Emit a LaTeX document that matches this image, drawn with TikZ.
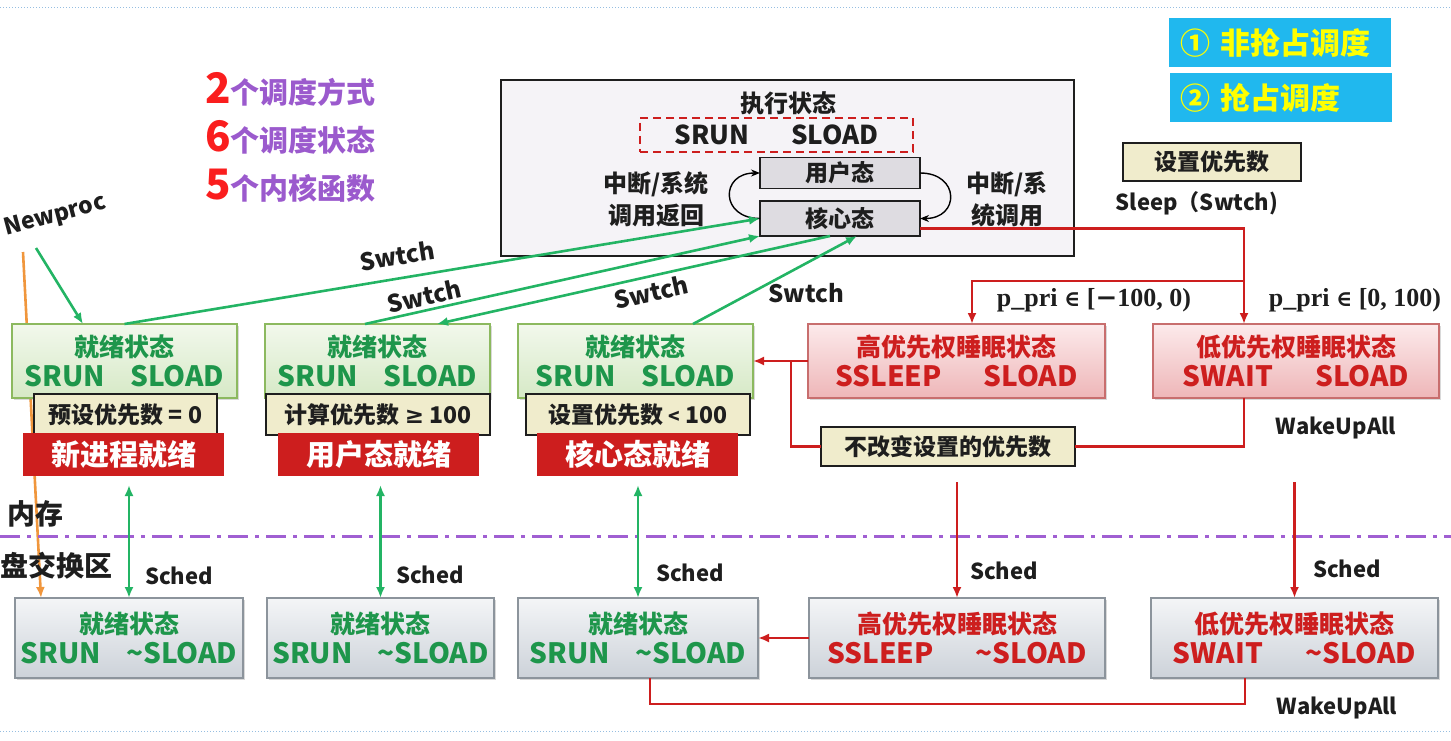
\documentclass[tikz,border=0pt]{standalone}
\usepackage[no-math]{fontspec}
\setmainfont{Noto Sans CJK SC}
\newfontfamily\serifb{Liberation Serif}
\newfontfamily\symb{DejaVu Serif}
\newfontfamily\symsans{DejaVu Sans}
\usetikzlibrary{arrows.meta,shadows}

\definecolor{grnline}{RGB}{140,185,95}
\definecolor{grntop}{RGB}{242,248,236}
\definecolor{grnbot}{RGB}{214,233,198}
\definecolor{grntxt}{RGB}{30,150,75}
\definecolor{grnarr}{RGB}{35,180,100}
\definecolor{redmain}{RGB}{205,30,30}
\definecolor{rednum}{RGB}{250,30,30}
\definecolor{pinktop}{RGB}{252,234,235}
\definecolor{pinkbot}{RGB}{238,182,184}
\definecolor{pinkline}{RGB}{200,110,110}
\definecolor{graytop}{RGB}{244,245,247}
\definecolor{graybot}{RGB}{204,210,217}
\definecolor{grayline}{RGB}{140,148,156}
\definecolor{beige}{RGB}{240,236,204}
\definecolor{execbg}{RGB}{245,243,247}
\definecolor{modebg}{RGB}{222,220,225}
\definecolor{cyanbg}{RGB}{32,184,238}
\definecolor{yelltxt}{RGB}{255,255,0}
\definecolor{purptxt}{RGB}{155,90,205}
\definecolor{purpline}{RGB}{160,95,210}
\definecolor{dotblue}{RGB}{150,190,225}
\definecolor{orgarr}{RGB}{240,150,60}
\definecolor{darktxt}{RGB}{30,30,30}

\pgfdeclarelayer{bg}
\pgfsetlayers{bg,main}

\newcommand{\twolines}[2]{{\fontsize{25}{30}\selectfont #1}\\#2}
\newcommand{\cntline}[2]{{\color{rednum}\fontsize{42}{42}\selectfont #1}{\color{purptxt}\fontsize{29}{29}\selectfont #2}}
\newcommand{\fs}[1]{\bfseries\fontsize{#1}{#1}\selectfont}

\begin{document}
\begin{tikzpicture}[x=1pt,y=-1pt]
\tikzset{ >={Latex[length=11pt,width=9pt]}, inner sep=0pt, outer sep=0pt,
  every node/.style={font=\fs{23}, text=darktxt},
  boxshadow/.style={drop shadow={shadow xshift=2pt, shadow yshift=-2pt, opacity=0.3}},
  rdybox/.style={draw=grnline, line width=1.2pt, top color=grntop, bottom color=grnbot,
    minimum height=74pt, align=center, text=grntxt, boxshadow,
    font=\bfseries\fontsize{28}{30}\selectfont},
  slpbox/.style={rdybox, draw=pinkline, top color=pinktop, bottom color=pinkbot, text=redmain},
  dskbox/.style={rdybox, draw=grayline, top color=graytop, bottom color=graybot, minimum height=80pt},
  beigebox/.style={draw=darktxt, line width=1.3pt, fill=beige, minimum height=41pt},
  redtag/.style={fill=redmain, text=white, minimum height=43pt, minimum width=201pt, font=\fs{29}},
  modebox/.style={draw=darktxt, line width=1.5pt, fill=modebg, minimum width=160pt, minimum height=31pt},
  modetag/.style={fill=cyanbg, text=yelltxt, minimum height=49pt, text width=200pt,
    inner xsep=11pt, align=left, font=\fs{30}},
  grnarrow/.style={draw=grnarr, line width=2.6pt, ->},
  redarrow/.style={draw=redmain, line width=2.6pt, ->},
  redline/.style={draw=redmain, line width=2.6pt},
}
\useasboundingbox (0,0) rectangle (1451,741);
\draw [dotblue, dotted, line width=1pt] (0,8) -- (1451,8);
\draw [dotblue, dotted, line width=1pt] (0,731) -- (1451,731);

%\draw [lightgray] (0,0) grid[step=100pt] (1451,741);

% memory / swap area
\draw [purpline, line width=3pt, dash pattern=on 20pt off 7pt on 4pt off 7pt] (0,536) -- (1451,536);
\node [font=\fs{28}] (mem) at (36,514) {内存};
\node [anchor=east, font=\fs{28}] (swap) at (113,566) {盘交换区};

% counts
\node [anchor=base west] (cntA) at (205,104) {\cntline{2}{个调度方式}};
\node [anchor=base west] (cntB) at (205,151.5) {\cntline{6}{个调度状态}};
\node [anchor=base west] (cntC) at (205,199) {\cntline{5}{个内核函数}};

\node [modetag] (tagNP) at (1280,42.5) {① 非抢占调度};
\node [modetag] (tagP) at (1280.5,97.5) {② 抢占调度};

% execution state
\node [draw=darktxt, line width=2pt, fill=execbg, minimum width=573pt, minimum height=176pt] (exec) at (787.5,168) {};
\node [font=\fs{24}] (execT) at (788,103) {执行状态};
\node [draw=redmain, line width=1.5pt, dash pattern=on 8pt off 5pt, minimum width=273pt, minimum height=34pt,
  font=\fs{26}] (runld) at (776.5,135) {SRUN\hspace{1.6em}SLOAD};
\node [modebox] (user) at (840,173) {用户态};
\node [modebox, minimum height=35pt] (kern) at (840,218.5) {核心态};
\node [align=center, font=\bfseries\fontsize{24}{32}\selectfont] (retL) at (656,199) {中断/系统\\调用返回};
\node [align=center, font=\bfseries\fontsize{24}{32}\selectfont] (callR) at (1007,199) {中断/系\\统调用};
\draw [->, line width=1.4pt, >={Stealth[length=9pt,width=7pt]}] (kern.west) to [out=180, in=180, distance=40pt] (user.west);
\draw [->, line width=1.4pt, >={Stealth[length=9pt,width=7pt]}] (user.east) to [out=0, in=0, distance=40pt] (kern.east);

\node [beigebox, minimum width=178pt, minimum height=38pt] (setpri) at (1212,162) {设置优先数};
\node [font=\fs{22}] (sleepT) at (1197,203) {Sleep（Swtch)};

% ready / sleep states in memory
\node [rdybox, minimum width=225pt] (rdyA) at (124.5,361) {\twolines{就绪状态}{SRUN\hspace{0.9em}SLOAD}};
\node [rdybox, minimum width=225pt] (rdyB) at (377.5,361) {\twolines{就绪状态}{SRUN\hspace{0.9em}SLOAD}};
\node [rdybox, minimum width=235pt] (rdyC) at (635.5,361) {\twolines{就绪状态}{SRUN\hspace{0.9em}SLOAD}};
\node [slpbox, minimum width=297pt] (slpH) at (956.5,361) {\twolines{高优先权睡眠状态}{SSLEEP\hspace{1.5em}SLOAD}};
\node [slpbox, minimum width=286pt] (slpL) at (1296,361) {\twolines{低优先权睡眠状态}{SWAIT\hspace{1.5em}SLOAD}};

\node [beigebox, minimum width=183pt] (priA) at (125.5,414.5) {预设优先数 = 0};
\node [beigebox, minimum width=224pt] (priB) at (378,414.5) {计算优先数 {\symsans ≥} 100};
\node [beigebox, minimum width=224pt] (priC) at (638,414.5) {设置优先数 {\fontsize{19}{19}\selectfont <} 100};

\node [redtag] (tagA) at (123.5,454.5) {新进程就绪};
\node [redtag] (tagB) at (378.5,454.5) {用户态就绪};
\node [redtag] (tagC) at (637.5,454.5) {核心态就绪};

\node [beigebox, minimum width=254pt, minimum height=39pt] (keep) at (948,446.5) {不改变设置的优先数};

% states on swap
\node [dskbox, minimum width=228pt] (dskA) at (129,638) {\twolines{就绪状态}{SRUN\hspace{0.9em}\textasciitilde SLOAD}};
\node [dskbox, minimum width=227pt] (dskB) at (380.5,638) {\twolines{就绪状态}{SRUN\hspace{0.9em}\textasciitilde SLOAD}};
\node [dskbox, minimum width=240pt] (dskC) at (638,638) {\twolines{就绪状态}{SRUN\hspace{0.9em}\textasciitilde SLOAD}};
\node [dskbox, minimum width=296pt, text=redmain] (dskH) at (957,638) {\twolines{高优先权睡眠状态}{SSLEEP\hspace{1.5em}\textasciitilde SLOAD}};
\node [dskbox, minimum width=287pt, text=redmain] (dskL) at (1294.5,638) {\twolines{低优先权睡眠状态}{SWAIT\hspace{1.5em}\textasciitilde SLOAD}};

% new process
\node [rotate=15, font=\fs{23}] (newT) at (55,216) {Newproc};
\coordinate (newp) at (36,248);
\coordinate (orgA) at (23,252);
\draw [grnarrow] (newp) -- ([xshift=-41.5pt]rdyA.north);
\begin{pgfonlayer}{bg}
\draw [draw=orgarr, line width=2.6pt, ->] (orgA) -- ([xshift=26pt]dskA.north west);
\end{pgfonlayer}

% switch
\draw [grnarrow] (rdyA.north) -- (kern.west);
\draw [grnarrow] ([xshift=-12.5pt]rdyB.north) -- (kern.south west);
\draw [grnarrow] ([xshift=-10pt]kern.south) -- ([xshift=59.5pt]rdyB.north);
\draw [grnarrow] ([xshift=57.5pt]rdyC.north) -- ([xshift=17pt]kern.south);
\node [rotate=9, font=\fs{24}] (swA) at (397,256) {Swtch};
\node [rotate=12.5, font=\fs{24}] (swB) at (424,296) {Swtch};
\node [rotate=12.5, font=\fs{24}] (swC) at (651,292) {Swtch};
\node [font=\fs{24}] (swD) at (806,293) {Swtch};

% sleep
\coordinate (jMid) at (1244,281);
\coordinate (jLeft) at (791,361);
\draw [redarrow] ([yshift=-10pt]kern.east) -| ([xshift=-52pt]slpL.north);
\draw [redarrow] (jMid) -| ([xshift=15.5pt]slpH.north);
\node [font=\serifb\fs{26}] (ppH) at (1094,300) {p\_pri {\symb\fontsize{22}{22}\selectfont ∈} [{\symb −}100, 0)};
\node [font=\serifb\fs{26}] (ppL) at (1355,300) {p\_pri {\symb\fontsize{22}{22}\selectfont ∈} [0, 100)};

% wake up
\draw [redarrow] (slpH.west) -- (rdyC.east);
\draw [redline] ([xshift=-52pt]slpL.south) |- (keep.east);
\draw [redline] (keep.west) -| (jLeft);
\node [font=\fs{22}] (wkA) at (1336,428) {WakeUpAll};
\draw [redarrow] (dskH.west) -- (dskC.east);
\draw [redline] ([xshift=-49.5pt]dskL.south) -- ++(0,26) -| ([xshift=12pt]dskC.south);
\node [font=\fs{22}] (wkB) at (1337,708) {WakeUpAll};

% sched
\coordinate (upA) at (129,485);
\coordinate (upB) at (380.5,485);
\coordinate (upC) at (638,485);
\coordinate (schH) at (957,482);
\coordinate (schL) at (1294.5,482);
\draw [grnarrow, <->] (upA) -- (dskA.north);
\draw [grnarrow, <->] (upB) -- (dskB.north);
\draw [grnarrow, <->] (upC) -- (dskC.north);
\draw [redarrow] (schH) -- (dskH.north);
\draw [redarrow] (schL) -- (dskL.north);
\node [font=\fs{22}] (scA) at (179,576) {Sched};
\node [font=\fs{22}] (scB) at (430,575) {Sched};
\node [font=\fs{22}] (scC) at (690,573) {Sched};
\node [font=\fs{22}] (scH) at (1004,571) {Sched};
\node [font=\fs{22}] (scL) at (1347,569) {Sched};

\end{tikzpicture}
\end{document}
